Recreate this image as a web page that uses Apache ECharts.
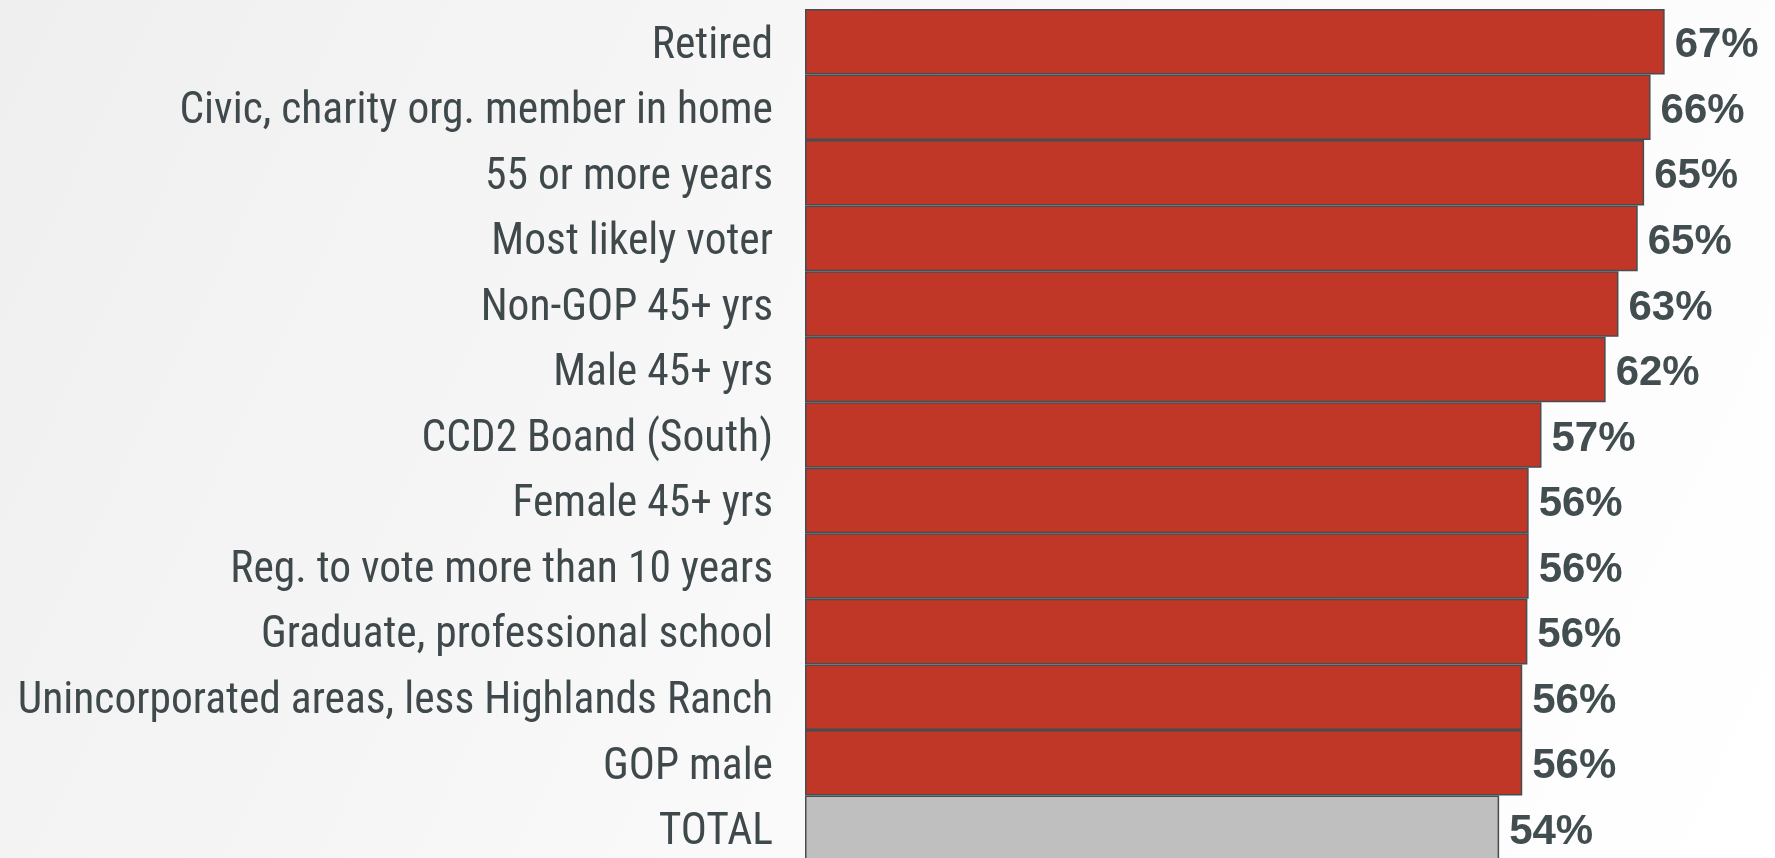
<!DOCTYPE html>
<html>
<head>
<meta charset="utf-8">
<title>chart</title>
<script src="https://cdn.jsdelivr.net/npm/echarts@6/dist/echarts.min.js"></script>
<style>
	html,body{margin:0;padding:0;}
	#content{width:1775px;height:858px;}
</style>
</head>
<body>
<div id="content"></div>
<script>
	/* data */
	var categories = ['Retired', 'Civic, charity org. member in home', '55 or more years', 'Most likely voter',
		'Non-GOP 45+ yrs', 'Male 45+ yrs', 'CCD2 Boand (South)', 'Female 45+ yrs',
		'Reg. to vote more than 10 years', 'Graduate, professional school',
		'Unincorporated areas, less Highlands Ranch', 'GOP male', 'TOTAL'];
	var values = [67.0, 65.9, 65.4, 64.9, 63.4, 62.4, 57.4, 56.4, 56.4, 56.3, 55.9, 55.9, 54.1];
	var labels = ['67%', '66%', '65%', '65%', '63%', '62%', '57%', '56%', '56%', '56%', '56%', '56%', '54%'];
	/* data */

	window.onload = function(){
		var myChart = echarts.init(document.getElementById('content'));

		var barData = values.map(function(v, i){
			return {
				value: v,
				itemStyle: {color: categories[i] == 'TOTAL' ? '#bfbfbf' : '#c03728'}
			};
		});

		var option = {
			backgroundColor: {
				type: 'linear', x: 0, y: 0, x2: 1, y2: 1,
				colorStops: [{offset: 0, color: '#efefef'}, {offset: 0.5, color: '#f9f9f9'}, {offset: 1, color: '#ffffff'}]
			},
			animation: false,
			grid: {left: 805, top: 9, width: 970, height: 852, containLabel: false, outerBoundsMode: 'none'},
			xAxis: {
				type: 'value',
				min: 0,
				max: 75.6,
				show: false
			},
			yAxis: {
				type: 'category',
				inverse: true,
				data: categories,
				axisLine: {show: false},
				axisTick: {show: false},
				axisLabel: {
					margin: 32,
					formatter: function(v){ return '{a|' + v + '}'; },
					rich: {
						a: {
							color: '#3f494c',
							fontFamily: 'Roboto Condensed',
							fontSize: 43.5,
							padding: [10, 0, 0, 0]
						}
					}
				}
			},
			series: [{
				type: 'bar',
				data: barData,
				barCategoryGap: 0,
				itemStyle: {borderColor: '#454d50', borderWidth: 1.5},
				label: {
					show: true,
					position: 'right',
					distance: 10,
					offset: [0, 4],
					color: '#424d50',
					fontFamily: 'Liberation Sans',
					fontWeight: 'bold',
					fontSize: 42,
					formatter: function(p){ return labels[p.dataIndex]; }
				}
			}]
		};
		myChart.setOption(option);
	};
</script>
</body>
</html>
